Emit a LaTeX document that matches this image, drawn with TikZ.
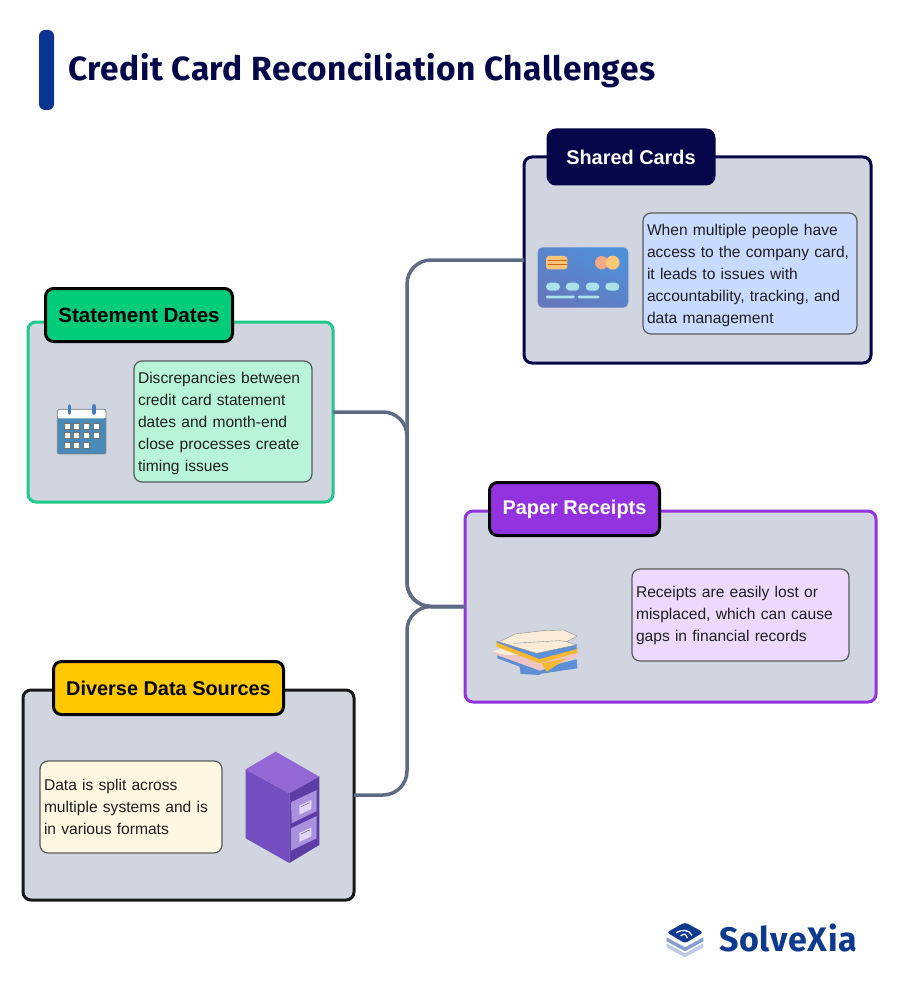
\documentclass[tikz,border=0pt]{standalone}
\usepackage{fontspec}
\setmainfont{Liberation Sans}
\newfontfamily\titlefont[LetterSpace=1.6]{Fira Sans}
\newfontfamily\brandfont[LetterSpace=2.2]{Fira Sans}
\usetikzlibrary{calc}
\definecolor{panelbg}{HTML}{D0D5E0}
\definecolor{conncol}{HTML}{5F6B85}
\definecolor{navy}{HTML}{05054A}
\definecolor{stmtgreen}{HTML}{1FC98A}
\definecolor{stmtfill}{HTML}{00CC7A}
\definecolor{purplec}{HTML}{9333E0}
\definecolor{ambercol}{HTML}{FFC800}
\definecolor{barblue}{HTML}{0A3491}
\definecolor{logoblue}{HTML}{0D3A8E}
\definecolor{cardA}{HTML}{4F8FD8}
\definecolor{cardB}{HTML}{5FBCEA}
\definecolor{cardC}{HTML}{6678BD}
\tikzset{
  panel/.style={draw=#1,fill=panelbg,line width=3pt,rounded corners=8pt,inner sep=0pt,outer sep=0pt},
  headbox/.style={rounded corners=8pt,inner sep=0pt,outer sep=0pt,line width=3pt,font=\fontsize{19.9}{22}\selectfont\bfseries},
  bodybox/.style={draw=black!65,line width=1.2pt,rounded corners=8pt,inner sep=0pt,outer sep=0pt,align=left,font=\fontsize{15.6}{22}\selectfont,text=black!88},
  conn/.style={draw=conncol,line width=3.5pt,rounded corners=24pt}
}
\begin{document}
\begin{tikzpicture}[x=1pt,y=-1pt]
\useasboundingbox (0,0) rectangle (900,1000);
\fill[white] (0,0) rectangle (900,1000);
% title
\fill[barblue,rounded corners=6pt] (39,30) rectangle (54,110);
\node[anchor=west,inner sep=0pt,text=navy,font=\titlefont\fontsize{33.5}{36}\selectfont\bfseries] (title) at (68,70.5) {Credit Card Reconciliation Challenges};
% panels
\node[panel=navy,minimum width=347pt,minimum height=206pt] (shared) at (697.5,260) {};
\node[panel=stmtgreen,minimum width=305pt,minimum height=180pt] (stmt) at (180.5,412) {};
\node[panel=purplec,minimum width=411pt,minimum height=191pt] (paper) at (670.5,606.5) {};
\node[panel=black!90,minimum width=331pt,minimum height=210pt] (diverse) at (188.5,795) {};
% connectors
\coordinate (bus) at (407,606.5);
\draw[conn] (shared.west) -| (bus) -- (paper.west);
\draw[conn] (stmt.east) -| (bus) -- (paper.west);
\draw[conn] (diverse.east) -| (bus) -- (paper.west);
% headers
\node[headbox,fill=navy,draw=navy,text=white,minimum width=166pt,minimum height=54pt] (sharedhead) at (631,157) {Shared Cards};
\node[headbox,fill=stmtfill,draw=black,text=black,minimum width=187pt,minimum height=53pt] (stmthead) at (139,315) {\fontsize{20.6}{22}\selectfont Statement Dates};
\node[headbox,fill=purplec,draw=black,text=white,minimum width=170pt,minimum height=53pt] (paperhead) at (574.5,509) {Paper Receipts};
\node[headbox,fill=ambercol,draw=black,text=black,minimum width=230pt,minimum height=53pt] (diversehead) at (168.5,688) {Diverse Data Sources};
% body boxes
\node[bodybox,fill={rgb,255:red,200;green,218;blue,255},minimum width=214pt,minimum height=121pt,text width=206pt] (sharedtext) at (750,273.5)
 {\rule{0pt}{15.2pt}When multiple people have\\access to the company card,\\it leads to issues with\\accountability, tracking, and\\data management};
\node[bodybox,fill={rgb,255:red,184;green,245;blue,216},minimum width=178pt,minimum height=121pt,text width=170pt] (stmttext) at (223,421.5)
 {\rule{0pt}{15.2pt}Discrepancies between\\credit card statement\\dates and month-end\\close processes create\\timing issues};
\node[bodybox,fill={rgb,255:red,237;green,217;blue,253},minimum width=217pt,minimum height=92pt,text width=209pt] (papertext) at (740.5,615)
 {\rule{0pt}{13.2pt}Receipts are easily lost or\\misplaced, which can cause\\gaps in financial records};
\node[bodybox,fill={rgb,255:red,253;green,246;blue,224},minimum width=182pt,minimum height=92pt,text width=174pt] (diversetext) at (131,807)
 {Data is split across\\multiple systems and is\\in various formats};
% card icon
\begin{scope}[shift={(520,120)},x=0.3333pt,y=-0.3333pt]
\shade[rounded corners=5pt,left color=cardA,middle color=cardB,right color=cardC,shading angle=-25]
  (53,382) rectangle (325,563);
\fill[rounded corners=3pt,fill={rgb,255:red,248;green,196;blue,120}] (78,408) rectangle (142,448);
\draw[line width=.6pt,color=orange!80!black] (85,420) -- (142,420) (85,434) -- (142,434);
\fill[fill={rgb,255:red,240;green,168;blue,136}] (245,428) circle (20);
\fill[fill={rgb,255:red,248;green,200;blue,120}] (278,428) circle (21);
\foreach \a/\b in {78/120,137/178,197/238,256/298}{
  \fill[rounded corners=4pt,fill={rgb,255:red,170;green,225;blue,235}] (\a,488) rectangle (\b,512);}
\fill[rounded corners=1pt,fill={rgb,255:red,170;green,225;blue,235}] (78,527) rectangle (164,535);
\fill[rounded corners=1pt,fill={rgb,255:red,170;green,225;blue,235}] (174,527) rectangle (238,535);
\end{scope}
% calendar icon
\begin{scope}[shift={(20,280)},x=0.3333pt,y=-0.3333pt]
\fill[rounded corners=2pt,fill={rgb,255:red,74;green,138;blue,184}] (112,388) rectangle (258,522);
\fill[white,rounded corners=2pt] (112,388) rectangle (258,415);
\draw[line width=.7pt,color=black!50,rounded corners=2pt] (112,388) rectangle (258,522);
\foreach \x in {148,222}{
  \draw[line width=3.6pt,color={rgb,255:red,70;green,125;blue,185},line cap=round] (\x,378) -- (\x,399);}
\foreach \y in {430,458,487}{
  \foreach \x in {132,161,190}{\draw[fill=white,draw=black!55,line width=.5pt] (\x,\y) rectangle ++(18,18);}}
\foreach \y in {430,458}{\draw[fill=white,draw=black!55,line width=.5pt] (220,\y) rectangle ++(18,18);}
\end{scope}
% paper pile icon
\begin{scope}[shift={(460,480)},x=0.3333pt,y=-0.3333pt]
\fill[fill={rgb,255:red,93;green,143;blue,214}] (178,555) -- (238,562) -- (240,585) -- (182,582) -- cycle;
\fill[fill={rgb,255:red,93;green,143;blue,214}] (112,520) -- (238,565) -- (350,538) -- (352,565) -- (238,582) -- (112,535) -- cycle;
\fill[fill={rgb,255:red,238;green,196;blue,196}] (100,515) -- (130,505) -- (240,545) -- (355,515) -- (355,530) -- (240,572) -- (110,525) -- cycle;
\fill[fill={rgb,255:red,250;green,236;blue,216}] (100,515) -- (130,503) -- (180,525) -- (130,525) -- cycle;
\fill[fill={rgb,255:red,245;green,184;blue,46}] (245,550) -- (320,535) -- (260,575) -- cycle;
\fill[fill={rgb,255:red,245;green,184;blue,46}] (108,485) -- (238,532) -- (352,503) -- (352,518) -- (238,550) -- (110,500) -- cycle;
\fill[fill={rgb,255:red,93;green,143;blue,214}] (110,483) -- (230,520) -- (350,492) -- (350,507) -- (238,537) -- (110,487) -- cycle;
\fill[fill={rgb,255:red,250;green,236;blue,216}] (118,486) -- (165,462) -- (250,452) -- (310,450) -- (352,468) -- (320,485) -- (348,495) -- (230,520) -- cycle;
\draw[line width=.4pt,color=black!45] (118,486) -- (165,462) -- (250,452) -- (310,450) -- (352,468) -- (320,485) -- (348,495) -- (230,520) -- cycle;
\draw[line width=.4pt,color=black!45] (160,490) -- (300,482) -- (320,485);
\end{scope}
% cabinet icon
\begin{scope}[shift={(220,740)},x=0.3333pt,y=-0.3333pt]
\fill[fill={rgb,255:red,116;green,78;blue,192}] (77,88) -- (208,160) -- (208,369) -- (77,295) -- cycle;
\fill[fill={rgb,255:red,148;green,104;blue,212}] (77,88) -- (167,35) -- (298,110) -- (208,160) -- cycle;
\fill[fill={rgb,255:red,93;green,60;blue,165}] (208,160) -- (298,110) -- (298,315) -- (208,369) -- cycle;
\fill[fill={rgb,255:red,170;green,145;blue,222}] (213,187) -- (290,150) -- (290,213) -- (215,250) -- cycle;
\fill[fill={rgb,255:red,170;green,145;blue,222}] (213,265) -- (290,228) -- (290,295) -- (213,332) -- cycle;
\fill[fill={rgb,255:red,225;green,215;blue,245}] (238,197) -- (274,180) -- (274,207) -- (238,224) -- cycle;
\fill[fill={rgb,255:red,225;green,215;blue,245}] (238,279) -- (274,262) -- (274,289) -- (238,306) -- cycle;
\draw[line width=.6pt,color=black!55] (243,200) -- (269,188) (243,282) -- (269,270);
\end{scope}
% logo
\begin{scope}[shift={(650,910)},x=0.3333pt,y=-0.3333pt]
\fill[fill={rgb,255:red,190;green,202;blue,230}] (50,100) -- (105,130) -- (160,100) -- (160,112) -- (105,142) -- (50,112) -- cycle;
\fill[fill={rgb,255:red,135;green,158;blue,210}] (50,82) -- (105,112) -- (160,82) -- (160,94) -- (105,124) -- (50,94) -- cycle;
\fill[logoblue,rounded corners=3pt] (105,37) -- (160,67) -- (105,100) -- (50,67) -- cycle;
\draw[white,line width=1.3pt] (78,68) .. controls (95,58) and (118,58) .. (126,76);
\draw[white,line width=1.3pt] (92,78) .. controls (100,70) and (108,70) .. (112,84);
\end{scope}
\node[anchor=west,inner sep=0pt,text=logoblue,font=\brandfont\fontsize{34}{36}\selectfont\bfseries] (brand) at (719,938) {SolveXia};
\end{tikzpicture}
\end{document}
